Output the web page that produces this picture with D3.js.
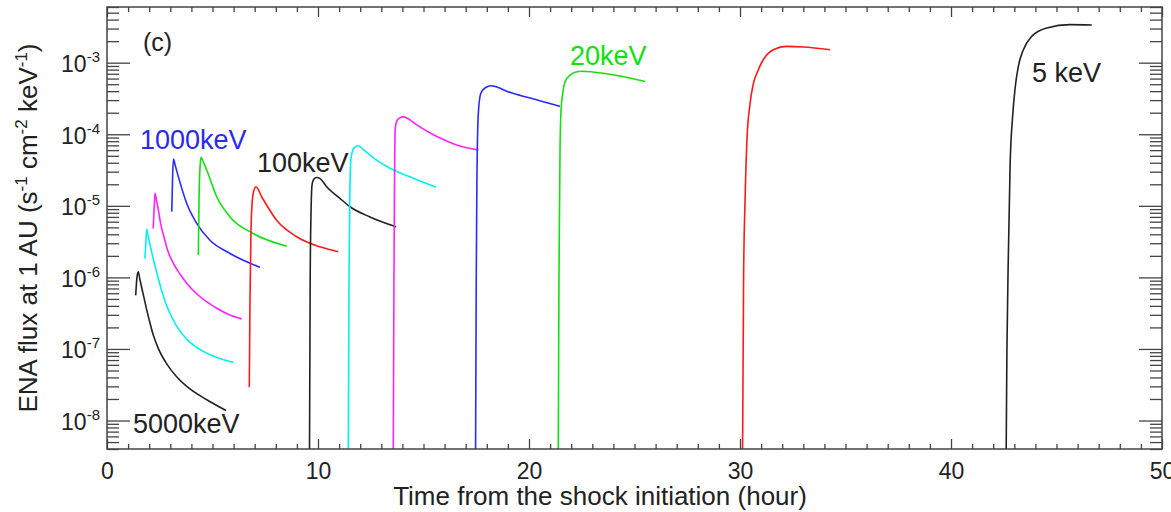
<!DOCTYPE html>
<html>
<head>
<meta charset="utf-8">
<script src="https://cdn.jsdelivr.net/npm/d3@7"></script>
<style>
  body { margin: 0; background: #fff; }
  svg { font-family: "Liberation Sans", Arial, sans-serif; }
</style>
</head>
<body>
<svg id="chart" width="1171" height="512"></svg>
<script>
// [hour, flux] pairs, one array per energy channel
var e5000 = [[1.36, 5.6e-7], [1.42, 1.0e-6], [1.48, 1.2e-6], [1.56, 9.3e-7], [1.65, 7.1e-7], [1.75, 5.25e-7],
             [1.88, 3.55e-7], [2.04, 2.29e-7], [2.19, 1.58e-7], [2.43, 1.02e-7], [2.83, 6.2e-8], [3.30, 4.1e-8],
             [3.78, 3.0e-8], [4.73, 1.95e-8], [5.64, 1.38e-8]];
var e3000 = [[1.80, 1.84e-6], [1.85, 3.4e-6], [1.88, 4.69e-6], [1.96, 3.63e-6], [2.05, 2.75e-6], [2.12, 2.24e-6],
             [2.25, 1.55e-6], [2.38, 1.1e-6], [2.51, 7.9e-7], [2.67, 5.5e-7], [2.90, 3.55e-7], [3.30, 2.09e-7],
             [3.80, 1.35e-7], [4.25, 1.05e-7], [5.20, 7.6e-8], [5.99, 6.5e-8]];
var e2000 = [[2.19, 4.84e-6], [2.24, 1.0e-5], [2.275, 1.5e-5], [2.35, 1.17e-5], [2.43, 8.9e-6], [2.55, 5.5e-6],
             [2.67, 3.98e-6], [2.85, 2.51e-6], [3.14, 1.58e-6], [3.50, 1.07e-6], [3.78, 8.3e-7], [4.25, 5.9e-7],
             [4.80, 4.4e-7], [5.20, 3.7e-7], [5.80, 3.0e-7], [6.38, 2.63e-7]];
var e1000 = [[3.07, 8.3e-6], [3.11, 2.6e-5], [3.15, 4.5e-5], [3.22, 3.8e-5], [3.38, 2.56e-5], [3.78, 1.08e-5],
             [4.25, 5.7e-6], [4.88, 3.3e-6], [5.83, 2.16e-6], [7.25, 1.38e-6]];
var e500 = [[4.33, 2.05e-6], [4.36, 1.2e-5], [4.41, 3.5e-5], [4.455, 4.77e-5], [4.55, 4.2e-5], [4.725, 3.17e-5],
            [5.20, 1.34e-5], [5.83, 7.0e-6], [6.93, 4.1e-6], [8.52, 2.73e-6]];
var e200 = [[6.744, 2.92e-8], [6.777, 4.8e-7], [6.825, 4.58e-6], [6.872, 1.03e-5], [6.95, 1.6e-5], [7.06, 1.85e-5],
            [7.33, 1.34e-5], [8.04, 6.3e-6], [8.99, 3.7e-6], [10.09, 2.67e-6], [10.96, 2.28e-6]];
var e100 = [[9.59, 1e-9], [9.63, 1e-6], [9.67, 8e-6], [9.72, 2.0e-5], [9.80, 2.35e-5], [9.93, 2.49e-5],
            [10.1, 2.4e-5], [10.41, 1.85e-5], [11.04, 1.27e-5], [11.52, 9.7e-6], [12.46, 7.0e-6], [13.70, 5.1e-6]];
var e50 = [[11.43, 1e-9], [11.47, 1e-6], [11.51, 1.5e-5], [11.56, 4.5e-5], [11.65, 6.0e-5], [11.78, 6.7e-5],
           [11.91, 6.9e-5], [12.1, 6.3e-5], [12.46, 5.1e-5], [13.41, 3.35e-5], [14.52, 2.43e-5], [15.59, 1.82e-5]];
var e40 = [[13.56, 1e-9], [13.60, 1e-6], [13.63, 3e-5], [13.66, 1.2e-4], [13.72, 1.5e-4], [13.85, 1.68e-4],
           [14.05, 1.75e-4], [14.25, 1.66e-4], [14.68, 1.35e-4], [15.63, 9.3e-5], [16.57, 7.1e-5], [17.60, 6.05e-5]];
var e30 = [[17.46, 1e-9], [17.50, 1e-6], [17.53, 2e-5], [17.57, 1.2e-4], [17.61, 2.2e-4], [17.68, 3.4e-4],
           [17.76, 3.96e-4], [17.95, 4.5e-4], [18.2, 4.77e-4], [18.5, 4.55e-4], [18.94, 4.0e-4], [20.05, 3.2e-4],
           [21.47, 2.45e-4]];
var e20 = [[21.38, 1e-9], [21.42, 1e-6], [21.47, 6e-5], [21.52, 2.2e-4], [21.59, 3.56e-4], [21.71, 5.42e-4],
           [21.94, 6.68e-4], [22.18, 7.36e-4], [22.51, 7.6e-4], [23.68, 7.0e-4], [25.50, 5.47e-4]];
var e10 = [[30.11, 1e-9], [30.17, 1e-6], [30.24, 1.2e-5], [30.33, 8.4e-5], [30.47, 2.58e-4], [30.62, 4.92e-4],
           [30.81, 7.24e-4], [31.10, 1.1e-3], [31.58, 1.52e-3], [32.21, 1.69e-3], [33.0, 1.66e-3], [34.27, 1.52e-3]];
var e5 = [[42.60, 1e-9], [42.65, 9.5e-8], [42.72, 2.16e-6], [42.80, 3.53e-5], [42.92, 1.77e-4], [43.03, 4.19e-4],
          [43.19, 8.87e-4], [43.43, 1.52e-3], [43.82, 2.33e-3], [44.54, 3.06e-3], [45.64, 3.40e-3], [46.67, 3.37e-3]];

var channels = [e5000, e3000, e2000, e1000, e500, e200, e100, e50, e40, e30, e20, e10, e5];

// curve labels, anchored in data space (start of text, baseline)
var labelText = ['5000keV', '1000keV', '100keV', '20keV', '5 keV'];
var labelHour = [1.23, 1.56, 7.11, 21.94, 43.84];
var labelFlux = [6.6e-9, 6.25e-5, 2.97e-5, 9.4e-4, 5.42e-4];

var xTicks = [0, 10, 20, 30, 40, 50];
var yTicks = [1e-8, 1e-7, 1e-6, 1e-5, 1e-4, 1e-3];

// IDL-like colour cycle
var palette = ['#222222', '#00f0f0', '#ff22ff', '#2a2aff', '#11e011', '#ff1a1a'];
var labelColor = {'1000keV': '#2a2aee', '20keV': '#11e011'};

var margin = {top: 7, right: 9, bottom: 63, left: 107},
    width = 1171 - margin.left - margin.right,
    height = 512 - margin.top - margin.bottom;

var root = d3.select('#chart');
var svg = root.append('g')
    .attr('transform', 'translate(' + margin.left + ',' + margin.top + ')');

var x = d3.scaleLinear().domain([0, 50]).range([0, width]);
var y = d3.scaleLog().domain([4e-9, 6e-3]).range([height, 0]);

svg.append('clipPath').attr('id', 'clip')
  .append('rect').attr('width', width).attr('height', height);

var line = d3.line()
    .x(function(d) { return x(d[0]); })
    .y(function(d) { return y(d[1]); })
    .curve(d3.curveMonotoneX);

svg.append('g').attr('clip-path', 'url(#clip)')
  .selectAll('path')
  .data(channels)
  .join('path')
    .attr('d', line)
    .attr('fill', 'none')
    .attr('stroke', function(d, i) { return palette[i % palette.length]; })
    .attr('stroke-width', 1.6)
    .attr('stroke-linejoin', 'round');

// ticks
var xMinor = d3.range(0, 51).filter(function(d) { return d % 10 !== 0; });
var yMinor = y.ticks().filter(function(d) { return Math.abs(Math.log10(d) - Math.round(Math.log10(d))) > 1e-6; });

function styleAxis(g) {
  g.attr('font-family', null).attr('font-size', null);
  g.select('.domain').remove();
  g.selectAll('.tick line').attr('stroke', '#444').attr('stroke-width', 1.3);
  g.selectAll('.tick text').attr('fill', '#222').attr('font-size', 23);
}

svg.append('g').attr('transform', 'translate(0,' + height + ')')
    .call(d3.axisBottom(x).tickValues(xTicks).tickSizeInner(-10).tickSizeOuter(0).tickPadding(14).tickFormat(d3.format('d')))
    .call(styleAxis);
svg.append('g').attr('transform', 'translate(0,' + height + ')')
    .call(d3.axisBottom(x).tickValues(xMinor).tickSizeInner(-5).tickSizeOuter(0).tickFormat(''))
    .call(styleAxis);
svg.append('g')
    .call(d3.axisTop(x).tickValues(xTicks).tickSizeInner(-10).tickSizeOuter(0).tickFormat(''))
    .call(styleAxis);
svg.append('g')
    .call(d3.axisTop(x).tickValues(xMinor).tickSizeInner(-5).tickSizeOuter(0).tickFormat(''))
    .call(styleAxis);

var yLeft = svg.append('g')
    .call(d3.axisLeft(y).tickValues(yTicks).tickSizeInner(-23).tickSizeOuter(0).tickPadding(7).tickFormat(function() { return '10'; }))
    .call(styleAxis);
yLeft.selectAll('.tick text').attr('dy', '0.38em')
  .append('tspan')
    .attr('dy', -10)
    .attr('font-size', 15)
    .text(function(d) { return Math.round(Math.log10(d)); });
svg.append('g')
    .call(d3.axisLeft(y).tickValues(yMinor).tickSizeInner(-12).tickSizeOuter(0).tickFormat(''))
    .call(styleAxis);
svg.append('g').attr('transform', 'translate(' + width + ',0)')
    .call(d3.axisRight(y).tickValues(yTicks).tickSizeInner(-23).tickSizeOuter(0).tickFormat(''))
    .call(styleAxis);
svg.append('g').attr('transform', 'translate(' + width + ',0)')
    .call(d3.axisRight(y).tickValues(yMinor).tickSizeInner(-12).tickSizeOuter(0).tickFormat(''))
    .call(styleAxis);

// frame
svg.append('rect')
    .attr('width', width).attr('height', height)
    .attr('fill', 'none').attr('stroke', '#444').attr('stroke-width', 1.5);

// curve labels
svg.selectAll('text.lbl')
  .data(labelText)
  .join('text')
    .attr('class', 'lbl')
    .attr('x', function(d, i) { return x(labelHour[i]); })
    .attr('y', function(d, i) { return y(labelFlux[i]); })
    .attr('font-size', 27)
    .attr('fill', function(d) { return labelColor[d] || '#222'; })
    .text(function(d) { return d; });

svg.append('text')
    .attr('x', 36).attr('y', 44)
    .attr('font-size', 25).attr('fill', '#222')
    .text('(c)');

// axis titles
root.append('text')
    .attr('x', 600).attr('y', 505)
    .attr('text-anchor', 'middle')
    .attr('font-size', 26).attr('fill', '#222')
    .text('Time from the shock initiation (hour)');

var yTitle = root.append('text')
    .attr('transform', 'translate(37,228) rotate(-90)')
    .attr('text-anchor', 'middle')
    .attr('font-size', 26).attr('fill', '#222');
yTitle.append('tspan').text('ENA flux at 1 AU (s');
yTitle.append('tspan').attr('dy', -10).attr('font-size', 17).text('-1');
yTitle.append('tspan').attr('dy', 10).text(' cm');
yTitle.append('tspan').attr('dy', -10).attr('font-size', 17).text('-2');
yTitle.append('tspan').attr('dy', 10).text(' keV');
yTitle.append('tspan').attr('dy', -10).attr('font-size', 17).text('-1');
yTitle.append('tspan').attr('dy', 10).text(')');
</script>
</body>
</html>
